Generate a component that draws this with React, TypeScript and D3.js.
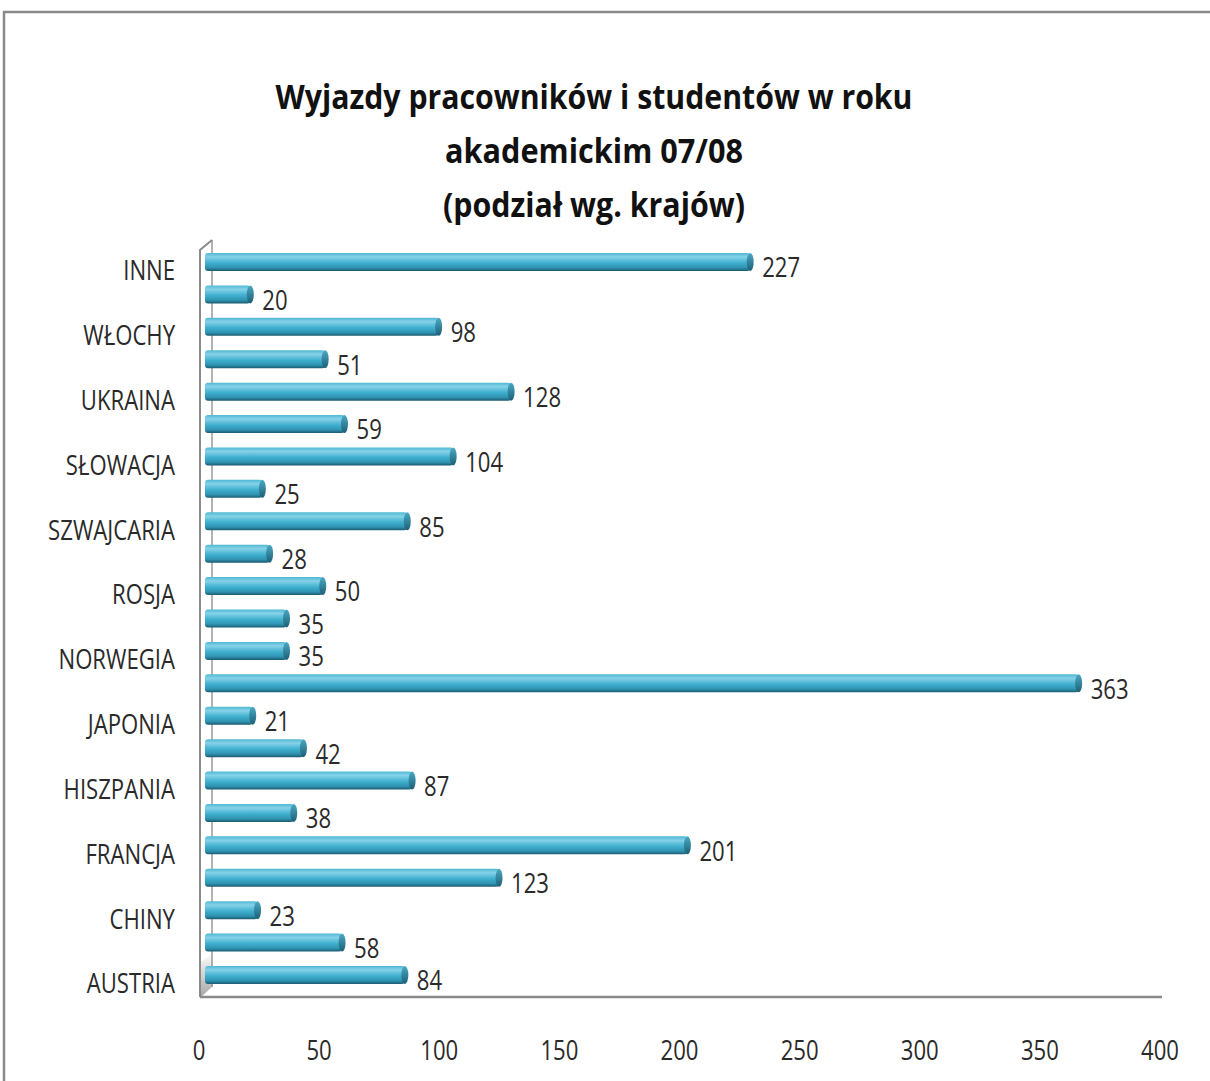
import React, { useEffect, useRef } from 'react';
import * as d3 from 'd3';

// countries, bottom to top (only every other one gets a label, as in the original)
const categories: string[] = [
  'AUSTRIA', 'BELGIA', 'CHINY', 'CZECHY', 'FRANCJA', 'GRECJA', 'HISZPANIA', 'HOLANDIA',
  'JAPONIA', 'NIEMCY', 'NORWEGIA', 'PORTUGALIA', 'ROSJA', 'RUMUNIA', 'SZWAJCARIA',
  'SZWECJA', 'SŁOWACJA', 'TURCJA', 'UKRAINA', 'USA', 'WŁOCHY', 'WĘGRY', 'INNE',
];
const values: number[] = [
  84, 58, 23, 123, 201, 38, 87, 42, 21, 363, 35, 35, 50, 28, 85, 25, 104, 59, 128, 51, 98, 20, 227,
];
const xTicks: number[] = [0, 50, 100, 150, 200, 250, 300, 350, 400];
const titleLines: string[] = [
  'Wyjazdy pracowników i studentów w roku',
  'akademickim 07/08',
  '(podział wg. krajów)',
];

const W = 1210;
const H = 1081;
const FONT = '"Open Sans", "Noto Sans", sans-serif';

const App = () => {
  const svgRef = useRef<SVGSVGElement>(null);

  useEffect(() => {
    const svg = d3.select(svgRef.current);
    svg.selectAll('*').remove();

    const defs = svg.append('defs');
    const grad = defs.append('linearGradient')
      .attr('id', 'barGrad')
      .attr('x1', 0).attr('y1', 0).attr('x2', 0).attr('y2', 1);
    grad.append('stop').attr('offset', '0%').attr('stop-color', '#4fb8d4');
    grad.append('stop').attr('offset', '22%').attr('stop-color', '#86d2e8');
    grad.append('stop').attr('offset', '55%').attr('stop-color', '#3fb0cf');
    grad.append('stop').attr('offset', '82%').attr('stop-color', '#2f93b1');
    grad.append('stop').attr('offset', '100%').attr('stop-color', '#1b5a70');

    const capGrad = defs.append('linearGradient')
      .attr('id', 'capGrad')
      .attr('x1', 0).attr('y1', 0).attr('x2', 0).attr('y2', 1);
    capGrad.append('stop').attr('offset', '0%').attr('stop-color', '#4aa9c4');
    capGrad.append('stop').attr('offset', '100%').attr('stop-color', '#1d5f76');

    const floorGrad = defs.append('linearGradient')
      .attr('id', 'floorGrad')
      .attr('x1', 0).attr('y1', 0).attr('x2', 0).attr('y2', 1);
    floorGrad.append('stop').attr('offset', '0%').attr('stop-color', '#ffffff');
    floorGrad.append('stop').attr('offset', '100%').attr('stop-color', '#a8a8a8');

    svg.append('rect').attr('width', W).attr('height', H).attr('fill', '#ffffff');

    // outer chart border (only top and left are visible)
    svg.append('path')
      .attr('d', `M4,${H} L4,12 L${W},12`)
      .attr('fill', 'none')
      .attr('stroke', '#8a8a8a')
      .attr('stroke-width', 2.5);

    // title
    const titleX = 594;
    const titleWidths = [637, 298, 302];
    svg.append('g').selectAll('text')
      .data(titleLines)
      .enter()
      .append('text')
      .attr('x', titleX)
      .attr('y', (d, i) => 109 + i * 54)
      .attr('text-anchor', 'middle')
      .attr('textLength', (d, i) => titleWidths[i])
      .attr('lengthAdjust', 'spacingAndGlyphs')
      .style('font-family', FONT)
      .style('font-weight', 700)
      .style('font-size', '34px')
      .style('fill', '#111')
      .text(d => d);

    const floorY = 997;
    const wallX = 200;
    const depth = 12;

    // scales
    const yScale = d3.scalePoint<string>()
      .domain(categories)
      .range([975, 262]);

    const xAxisScale = d3.scaleLinear().domain([0, 400]).range([199, 1160]);
    const xBar = d3.scaleLinear().domain([0, 400]).range([205, 1171]);

    // 3D wall and floor
    svg.append('path')
      .attr('d', `M${wallX + 1},${floorY} L${wallX + depth + 1},${floorY - 11} L${wallX + depth + 1},${floorY - 45} L${wallX + 1},${floorY - 35} Z`)
      .attr('fill', 'url(#floorGrad)');
    svg.append('line')
      .attr('x1', wallX + depth).attr('x2', wallX + depth)
      .attr('y1', 240).attr('y2', floorY - 10)
      .attr('stroke', '#9a9a9a').attr('stroke-width', 1.5);
    svg.append('path')
      .attr('d', `M${wallX},${floorY} L${wallX},250 L${wallX + depth},240`)
      .attr('fill', 'none')
      .attr('stroke', '#8a8a8a')
      .attr('stroke-width', 2);
    svg.append('line')
      .attr('x1', wallX).attr('x2', 1162)
      .attr('y1', floorY).attr('y2', floorY)
      .attr('stroke', '#8a8a8a')
      .attr('stroke-width', 2.5);

    const barH = 18;
    const data = categories.map((c, i) => ({ name: c, value: values[i], idx: i }));

    const bars = svg.append('g');
    bars.selectAll('.bar')
      .data(data)
      .enter()
      .append('rect')
      .attr('class', 'bar')
      .attr('x', xBar(0))
      .attr('y', d => (yScale(d.name) as number) - barH / 2)
      .attr('width', d => xBar(d.value) - xBar(0) - 3)
      .attr('height', barH)
      .attr('rx', 3)
      .attr('fill', 'url(#barGrad)');

    bars.selectAll('.cap')
      .data(data)
      .enter()
      .append('ellipse')
      .attr('class', 'cap')
      .attr('cx', d => xBar(d.value) - 3)
      .attr('cy', d => yScale(d.name) as number)
      .attr('rx', 3.5)
      .attr('ry', barH / 2)
      .attr('fill', 'url(#capGrad)');

    const labelSize = '27px';
    const squeeze = 0.82;

    // value labels
    svg.append('g').selectAll('g')
      .data(data)
      .enter()
      .append('g')
      .attr('transform', d => `translate(${xBar(d.value) + 9},${(yScale(d.name) as number) + 5}) scale(${squeeze},1)`)
      .append('text')
      .attr('dominant-baseline', 'central')
      .style('font-family', FONT)
      .style('font-size', labelSize)
      .style('fill', '#2a2a2a')
      .text(d => d.value);

    // category labels (every other)
    svg.append('g').selectAll('g')
      .data(data.filter(d => d.idx % 2 === 0))
      .enter()
      .append('g')
      .attr('transform', d => `translate(175,${(yScale(d.name) as number) + 8}) scale(${squeeze},1)`)
      .append('text')
      .attr('text-anchor', 'end')
      .attr('dominant-baseline', 'central')
      .style('font-family', FONT)
      .style('font-size', labelSize)
      .style('fill', '#2a2a2a')
      .text(d => d.name);

    // x tick labels
    svg.append('g').selectAll('g')
      .data(xTicks)
      .enter()
      .append('g')
      .attr('transform', d => `translate(${xAxisScale(d)},1050) scale(${squeeze},1)`)
      .append('text')
      .attr('text-anchor', 'middle')
      .attr('dominant-baseline', 'central')
      .style('font-family', FONT)
      .style('font-size', labelSize)
      .style('fill', '#2a2a2a')
      .text(d => d);
  }, []);

  return (
    <svg
      ref={svgRef}
      width={W}
      height={H}
      style={{ position: 'absolute', left: 0, top: 0, display: 'block' }}
    />
  );
};

export default App;
